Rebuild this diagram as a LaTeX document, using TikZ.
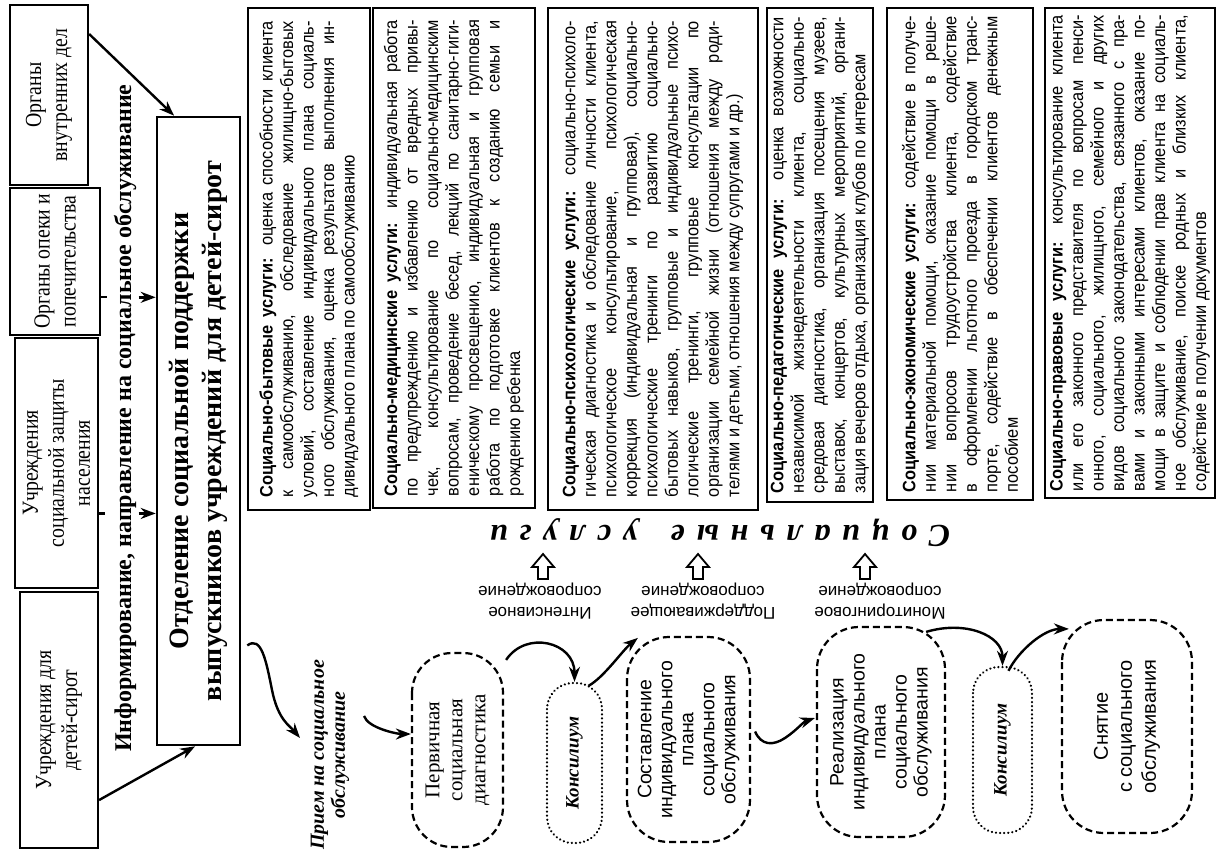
\documentclass[tikz,border=0pt]{standalone}
\usepackage{fontspec}
\setmainfont{Liberation Serif}
\newfontfamily\svcfont{Liberation Sans}
\newfontfamily\boxfont[FakeStretch=0.91]{Liberation Sans}
\newfontfamily\condserif[FakeStretch=0.86]{Liberation Serif}
\usetikzlibrary{arrows.meta,calc}
\newlength\svcw
\setlength\svcw{476pt}
\newcommand\JL[1]{\makebox[\svcw][s]{#1}\\}
\newcommand\LL[1]{\makebox[\svcw][l]{#1}}
\begin{document}
\begin{tikzpicture}[x=1pt,y=-1pt,
  lbox/.style={draw, line width=2.2pt, rotate=90, inner sep=0pt, align=center,
    font=\condserif\fontsize{23}{26}\selectfont},
  svc/.style={draw, line width=1.6pt, rotate=90, inner sep=0pt, align=left,
    font=\boxfont\fontsize{18}{20.5}\selectfont},
  stage/.style={draw, line width=2.2pt, dash pattern=on 7pt off 4pt, rotate=90,
    rounded corners=42pt, inner sep=0pt, align=center},
  kons/.style={draw, line width=2.4pt, dash pattern=on 0.1pt off 4pt, line cap=round,
    rotate=90, rounded corners=26pt, inner sep=0pt,
    font=\bfseries\itshape\fontsize{19}{22}\selectfont},
  lab/.style={rotate=180, align=center, inner sep=0pt,
    font=\svcfont\fontsize{17}{21}\selectfont},
  flow/.style={line width=2.4pt, -{Stealth[length=15pt,width=11pt]}},
  hollow/.pic={\draw[line width=1.8pt, fill=white, line join=miter]
    (0,-13) -- (11,0) -- (5,0) -- (5,12) -- (-5,12) -- (-5,0) -- (-11,0) -- cycle;}
]
\useasboundingbox (0,0) rectangle (1218,852);
\fill[white] (0,0) rectangle (1218,852);

% left column
\node[lbox, minimum width=180pt, minimum height=78pt] (b4) at (49,95) {Органы\\внутренних дел};
\node[lbox, minimum width=147pt, minimum height=90pt] (b3) at (55,261.5) {Органы опеки и\\попечительства};
\node[lbox, minimum width=250pt, minimum height=83pt] (b2) at (56.5,463) {Учреждения\\социальной защиты\\населения};
\node[lbox, minimum width=256pt, minimum height=78pt] (b1) at (59,720) {Учреждения для\\детей-сирот};
\node[lbox, line width=2.6pt, minimum width=628pt, minimum height=83pt,
  font=\bfseries\fontsize{28}{33}\selectfont] (big) at (198.5,431)
  {Отделение социальной поддержки\\выпускников учреждений для детей-сирот};
\node[rotate=90, inner sep=0pt, font=\bfseries\fontsize{24}{26}\selectfont] (info) at (125,418)
  {Информирование, направление на социальное обслуживание};

\draw[flow] ($(b4.south east)!0.33!(b4.south)$) -- ($(big.north east)!0.43!(big.east)$);
\draw[flow] ($(b1.south)!0.62!(b1.south west)$) -- ($(big.north west)!0.92!(big.west)$);
\coordinate (t3) at ($(b3.south)!0.48!(b3.south west)$);
\coordinate (t2) at ($(b2.south)!0.40!(b2.south west)$);
\draw[line width=2.2pt] (t3) -- ++(6,0);
\draw[line width=2.2pt] (t2) -- ++(6,0);
\draw[flow] (big.north |- t3) ++(-17,0) -- (big.north |- t3);
\draw[flow] (big.north |- t2) ++(-17,0) -- (big.north |- t2);

% service boxes
\node[svc, minimum width=502pt, minimum height=122pt] (s1) at (309,259) {%
\JL{\textbf{Социально-бытовые услуги:} оценка способности клиента}
\JL{к самообслуживанию, обследование жилищно-бытовых}
\JL{условий, составление индивидуального плана социаль-}
\JL{ного обслуживания, оценка результатов выполнения ин-}
\LL{дивидуального плана по самообслуживанию}};
\node[svc, minimum width=500pt, minimum height=162pt] (s2) at (454,258) {%
\JL{\textbf{Социально-медицинские услуги:} индивидуальная работа}
\JL{по предупреждению и избавлению от вредных привы-}
\JL{чек, консультирование по социально-медицинским}
\JL{вопросам, проведение бесед, лекций по санитарно-гиги-}
\JL{еническому просвещению, индивидуальная и групповая}
\JL{работа по подготовке клиентов к созданию семьи и}
\LL{рождению ребенка}};
\node[svc, minimum width=502pt, minimum height=210pt] (s3) at (653,259) {%
\JL{\textbf{Социально-психологические услуги:} социально-психоло-}
\JL{гическая диагностика и обследование личности клиента,}
\JL{психологическое консультирование, психологическая}
\JL{коррекция (индивидуальная и групповая), социально-}
\JL{психологические тренинги по развитию социально-}
\JL{бытовых навыков, групповые и индивидуальные психо-}
\JL{логические тренинги, групповые консультации по}
\JL{организации семейной жизни (отношения между роди-}
\LL{телями и детьми, отношения между супругами и др.)}};
\node[svc, minimum width=494pt, minimum height=106pt] (s4) at (820,255) {%
\JL{\textbf{Социально-педагогические услуги:} оценка возможности}
\JL{независимой жизнедеятельности клиента, социально-}
\JL{средовая диагностика, организация посещения музеев,}
\JL{выставок, концертов, культурных мероприятий, органи-}
\LL{зация вечеров отдыха, организация клубов по интересам}};
\node[svc, minimum width=492pt, minimum height=146pt] (s5) at (960,254) {%
\JL{\textbf{Социально-экономические услуги:} содействие в получе-}
\JL{нии материальной помощи, оказание помощи в реше-}
\JL{нии вопросов трудоустройства клиента, содействие}
\JL{в оформлении льготного проезда в городском транс-}
\JL{порте, содействие в обеспечении клиентов денежным}
\LL{пособием}};
\node[svc, minimum width=490pt, minimum height=170pt] (s6) at (1130,253) {%
\JL{\textbf{Социально-правовые услуги:} консультирование клиента}
\JL{или его законного представителя по вопросам пенси-}
\JL{онного, социального, жилищного, семейного и других}
\JL{видов социального законодательства, связанного с пра-}
\JL{вами и законными интересами клиентов, оказание по-}
\JL{мощи в защите и соблюдении прав клиента на социаль-}
\JL{ное обслуживание, поиске родных и близких клиента,}
\LL{содействие в получении документов}};

% social services title, arrows, labels
\node[rotate=180, inner sep=0pt, font=\bfseries\itshape\fontsize{32}{36}\selectfont] (su) at (720,533)
  {\makebox[460pt][s]{С о ц и а л ь н ы е\hspace{22pt} у с л у г и}};
\pic at (543,567) {hollow};
\pic at (698,567) {hollow};
\pic at (865,567) {hollow};
\node[lab] (l1) at (540,601) {Интенсивное\\сопровождение};
\node[lab] (l2) at (703,601) {Поддерживающее\\сопровождение};
\node[lab] (l3) at (880,601) {Мониторинговое\\сопровождение};

% process row
\node[rotate=90, align=center, inner sep=0pt, font=\bfseries\itshape\fontsize{20}{21}\selectfont] (priem) at (330,755)
  {Прием на социальное\\обслуживание};
\node[stage, minimum width=194pt, minimum height=91pt, rounded corners=40pt,
  font=\fontsize{21}{23}\selectfont] (perv) at (457.5,750) {Первичная\\социальная\\диагностика};
\node[kons, minimum width=160pt, minimum height=55pt] (k1) at (574.5,763) {Консилиум};
\node[stage, minimum width=205pt, minimum height=123pt, font=\svcfont\fontsize{19.5}{21}\selectfont]
  (sost) at (688.5,739.5) {Составление\\индивидуального\\плана\\социального\\обслуживания};
\node[stage, minimum width=210pt, minimum height=128pt, font=\svcfont\fontsize{19.5}{21}\selectfont]
  (real) at (881,732) {Реализация\\индивидуального\\плана\\социального\\обслуживания};
\node[kons, minimum width=166pt, minimum height=59pt] (k2) at (1002.5,750) {Консилиум};
\node[stage, minimum width=213pt, minimum height=130pt, font=\svcfont\fontsize{20}{24}\selectfont]
  (snyat) at (1127,726.5) {Снятие\\с социального\\обслуживания};

\coordinate (sq0) at ($(big.south)!0.68!(big.south west)$);
\coordinate (sq1) at (300,738);
\draw[flow] ([xshift=6pt]sq0) .. controls +(14,-10) and +(-6,-30) .. (272,690)
  .. controls +(6,30) and +(-10,-12) .. (sq1);
\coordinate (pr0) at (364,716);
\draw[flow] (pr0) .. controls +(4,12) and +(-14,0) .. ($(perv.north)+(0,-16)$);
\draw[flow] ($(perv.south east)+(2,8)$) .. controls +(20,-30) and +(0,-40) .. (k1.east);
\draw[flow] ($(k1.east)+(14,4)$) .. controls +(15,-8) and +(-15,12) .. ($(sost.north east)+(12,2)$);
\draw[flow] ($(sost.south)+(4,-8)$) .. controls +(6,14) and +(-12,8) .. (785,738)
  .. controls +(12,-8) and +(-12,4) .. ($(real.north)+(-1,-14)$);
\draw[flow] ($(real.south east)+(-20,6)$) .. controls +(40,-12) and +(0,-30) .. (k2.east);
\draw[flow] ($(k2.east)+(6,5)$) .. controls +(10,-20) and +(-25,0) .. ($(snyat.north east)+(8,10)$);
\end{tikzpicture}
\end{document}
